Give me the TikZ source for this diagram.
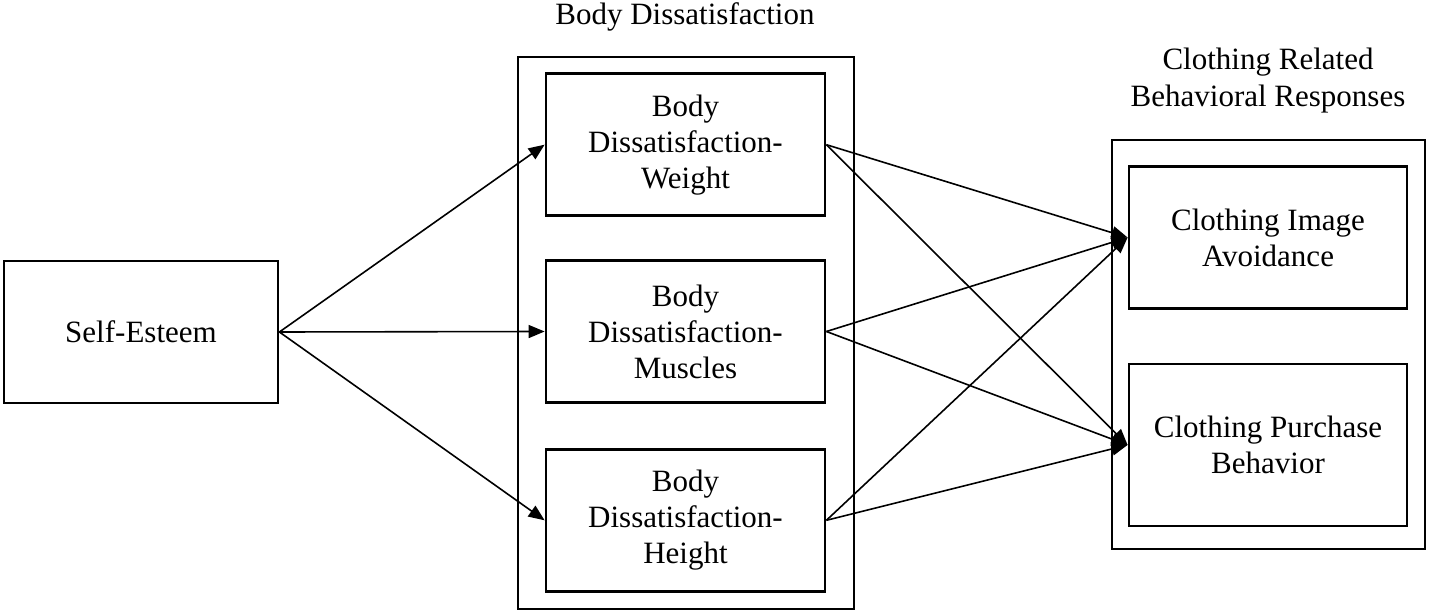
\documentclass[tikz,border=0pt]{standalone}
\usepackage{fontspec}
\setmainfont{Liberation Serif}
\usepackage{tikz}
\usetikzlibrary{positioning, arrows.meta}
\tikzset{
    varbox/.style={
           rectangle,
           draw=black, line width=1.4pt,
           minimum width=139.5pt,
           minimum height=71pt,
           inner sep=2pt,
           align=center,
           font=\fontsize{15.5}{18}\selectfont,
           },
    groupbox/.style={
           rectangle,
           draw=black, line width=1.4pt,
           inner sep=0pt,
           },
    grouptitle/.style={
           align=center,
           inner sep=0pt,
           font=\fontsize{15.5}{18.5}\selectfont,
           },
}

\begin{document}
\begin{tikzpicture}[>={Triangle[length=8pt,width=6.5pt]},x=0.5pt,y=-0.5pt,line width=0.8pt]
  \useasboundingbox (0,0) rectangle (1429,614);

  % groups
  \node[groupbox, minimum width=168pt, minimum height=276pt]     (BDgroup)   at (686,333)    {};
  \node[groupbox, minimum width=156.5pt, minimum height=204.5pt] (CRgroup)   at (1268.5,344.5) {};
  \node[grouptitle, anchor=base]                                 (BDtitle)   at (685,25)     {Body Dissatisfaction};
  \node[grouptitle]                                              (CRtitle)   at (1268,81)    {Clothing Related\\Behavioral Responses};

  % variables
  \node[varbox, minimum width=137pt]                             (SE)        at (141,332)    {Self-Esteem};
  \node[varbox]                                                  (BDM)       at (685.5,331.5) {Body\\Dissatisfaction-\\Muscles};
  \node[varbox, above=21pt of BDM]                               (BDW)       {Body\\Dissatisfaction-\\Weight};
  \node[varbox, below=22pt of BDM]                               (BDH)       {Body\\Dissatisfaction-\\Height};
  \node[varbox, minimum width=139pt]                             (CIA)       at (1268,237.5) {Clothing Image\\Avoidance};
  \node[varbox, minimum width=139pt, minimum height=81pt]        (CPB)       at (1268,445)   {Clothing Purchase\\Behavior};

  \path (SE.east)      edge[->]    (BDW.west);
  \path (SE.east)      edge[->]    (BDM.west);
  \path (SE.east)      edge[->]    (BDH.west);

  \path (BDW.east)     edge[->]    (CIA.west);
  \path (BDW.east)     edge[->]    (CPB.west);
  \path (BDM.east)     edge[->]    (CIA.west);
  \path (BDM.east)     edge[->]    (CPB.west);
  \path (BDH.east)     edge[->]    (CIA.west);
  \path (BDH.east)     edge[->]    (CPB.west);

\end{tikzpicture}
\end{document}
